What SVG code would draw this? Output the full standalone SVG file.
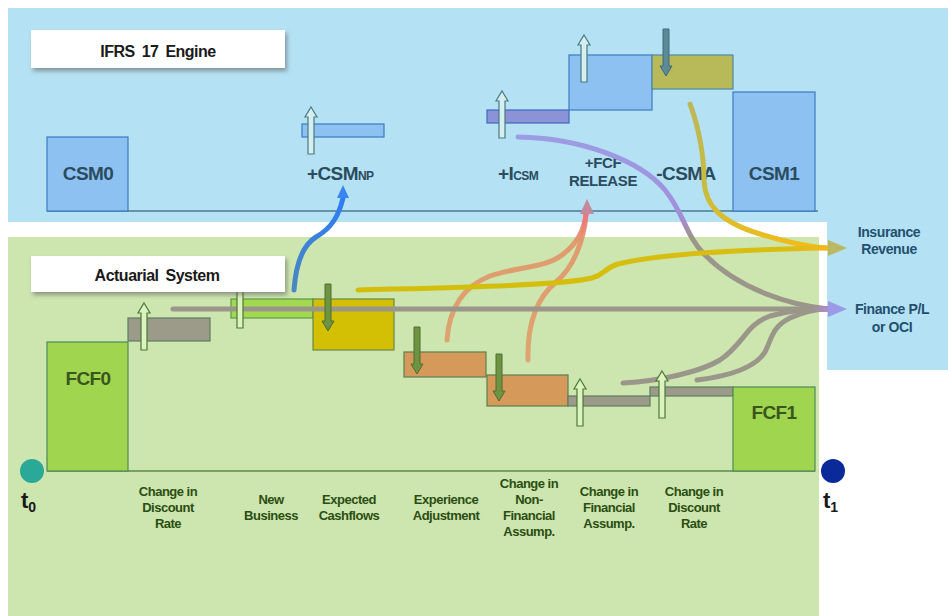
<svg xmlns="http://www.w3.org/2000/svg" xmlns:xlink="http://www.w3.org/1999/xlink" width="948" height="616" viewBox="0 0 948 616">
<style>
  .lbl { font-family: "Liberation Sans", Arial, sans-serif; font-weight: bold; }
  .big { font-size: 19px; fill: #2B4C5E; letter-spacing: -0.6px; text-anchor: middle; }
  .fcf { font-size: 19px; fill: #3B5520; letter-spacing: -0.6px; text-anchor: middle; }
  .mid { font-size: 15px; fill: #2B4C5E; letter-spacing: -0.4px; text-anchor: middle; }
  .cat { font-size: 13px; fill: #2A4E12; letter-spacing: -0.5px; text-anchor: middle; }
  .out { font-size: 14px; fill: #23506E; letter-spacing: -0.4px; text-anchor: middle; }
  .head { font-size: 16px; fill: #1A1A1A; letter-spacing: -0.5px; text-anchor: middle; word-spacing: 3px; }
  .csm { fill: #8DC1F1; stroke: #3B7BC4; stroke-width: 1.2; }
  .icsm { fill: #8C92D6; stroke: #3B6BC0; stroke-width: 1.2; }
  .csma { fill: #B8BA5A; stroke: #4D8AA0; stroke-width: 1.2; }
  .fcfbox { fill: #9FD54F; stroke: #4E8A5A; stroke-width: 1.2; }
  .nb { fill: #A2D94E; stroke: #5A9A4A; stroke-width: 1.2; }
  .gray { fill: #9C9A88; stroke: #5E7E60; stroke-width: 1.2; }
  .yel { fill: #D3BF04; stroke: #6A8A4A; stroke-width: 1.2; }
  .ora { fill: #D5995A; stroke: #5E7E50; stroke-width: 1.2; }
  .upb { fill: #D5EEF0; stroke: #4A7A80; stroke-width: 1.2; }
  .upg { fill: #DDF2BE; stroke: #4A7A3A; stroke-width: 1.2; }
  .dnb { fill: #5C8A96; stroke: #3F6A7A; stroke-width: 1; }
  .dng { fill: #6E9442; stroke: #4F6F30; stroke-width: 1; }
  .conn { fill: none; stroke-width: 5; stroke-linecap: round; }
</style>
<defs>
  <path id="up" d="M0,0 L6,10 L3,10 L3,47 L-3,47 L-3,10 L-6,10 Z"/>
  <path id="dn" d="M-3,0 L3,0 L3,37 L6,37 L0,47 L-6,37 L-3,37 Z"/>
  <filter id="sh" x="-10%" y="-20%" width="120%" height="150%">
    <feDropShadow dx="2" dy="3" stdDeviation="2" flood-color="#555" flood-opacity="0.55"/>
  </filter>
  <linearGradient id="gBlue" gradientUnits="userSpaceOnUse" x1="294" y1="290" x2="343" y2="198">
    <stop offset="0" stop-color="#4A88C0"/>
    <stop offset="1" stop-color="#2F7CF2"/>
  </linearGradient>
  <linearGradient id="gOra" gradientUnits="userSpaceOnUse" x1="0" y1="360" x2="0" y2="212">
    <stop offset="0" stop-color="#DDA06C"/>
    <stop offset="0.8" stop-color="#E29468"/>
    <stop offset="1" stop-color="#F2707E"/>
  </linearGradient>
  <linearGradient id="gPur" gradientUnits="userSpaceOnUse" x1="0" y1="137" x2="0" y2="309">
    <stop offset="0" stop-color="#9C9CE4"/>
    <stop offset="0.42" stop-color="#A090DC"/>
    <stop offset="0.5" stop-color="#A88AC8"/>
    <stop offset="0.58" stop-color="#9A968A"/>
    <stop offset="1" stop-color="#9A968A"/>
  </linearGradient>
  <linearGradient id="gCsma" gradientUnits="userSpaceOnUse" x1="0" y1="104" x2="0" y2="248">
    <stop offset="0" stop-color="#BDB758"/>
    <stop offset="0.6" stop-color="#C8BC40"/>
    <stop offset="1" stop-color="#F2BC18"/>
  </linearGradient>
  <linearGradient id="gYel" gradientUnits="userSpaceOnUse" x1="358" y1="0" x2="828" y2="0">
    <stop offset="0" stop-color="#D2BE0A"/>
    <stop offset="0.9" stop-color="#D8BE12"/>
    <stop offset="1" stop-color="#F2B81E"/>
  </linearGradient>
  <linearGradient id="gGray" gradientUnits="userSpaceOnUse" x1="173" y1="0" x2="828" y2="0">
    <stop offset="0" stop-color="#9A968A"/>
    <stop offset="0.975" stop-color="#9A968A"/>
    <stop offset="1" stop-color="#B08AD8"/>
  </linearGradient>
</defs>

<!-- backgrounds -->
<path d="M8,8 H948 V370 H827 V222 H8 Z" fill="#B4E1F3"/>
<rect x="8" y="237" width="811" height="379" fill="#CDE5AE"/>

<!-- baselines -->
<line x1="47" y1="211" x2="818" y2="211" stroke="#4A7A90" stroke-width="1.5"/>
<line x1="47" y1="471" x2="815" y2="471" stroke="#5A8A4A" stroke-width="1.5"/>

<!-- IFRS 17 engine nodes -->
<g id="csm0"><rect class="csm" x="47" y="137" width="81" height="74"/><text class="lbl big" x="88" y="180">CSM0</text></g>
<g id="csmnp"><rect class="csm" x="302" y="124" width="82" height="13"/><use href="#up" class="upb" x="311" y="107"/><text class="lbl big" x="307" y="180" style="text-anchor:start">+CSM<tspan font-size="12" letter-spacing="-0.6">NP</tspan></text></g>
<g id="icsm"><rect class="icsm" x="487" y="110" width="82" height="13"/><use href="#up" class="upb" x="502" y="91"/><text class="lbl big" x="498" y="180" style="text-anchor:start">+I<tspan font-size="12" letter-spacing="-0.6">CSM</tspan></text></g>
<g id="fcfrelease"><rect class="csm" x="569" y="55" width="83" height="55"/><use href="#up" class="upb" x="584" y="35"/><text class="lbl mid" x="603" y="168">+FCF</text><text class="lbl mid" x="603" y="186">RELEASE</text></g>
<g id="csma"><rect class="csma" x="652" y="55" width="81" height="34"/><use href="#dn" class="dnb" x="666" y="29"/><text class="lbl big" x="686" y="180">-CSMA</text></g>
<g id="csm1"><rect class="csm" x="733" y="92" width="82" height="119"/><text class="lbl big" x="774" y="180">CSM1</text></g>

<!-- Actuarial system nodes -->
<g id="fcf0"><rect class="fcfbox" x="47" y="342" width="81" height="129"/><text class="lbl fcf" x="88" y="385">FCF0</text></g>
<g id="discount0"><rect class="gray" x="128" y="318" width="82" height="23"/></g>
<g id="newbusiness"><rect class="nb" x="231" y="299" width="82" height="19"/></g>
<g id="expected"><rect class="yel" x="313" y="299" width="81" height="51"/></g>
<g id="experience"><rect class="ora" x="404" y="352" width="82" height="25"/></g>
<g id="nonfin"><rect class="ora" x="487" y="375" width="81" height="31"/></g>
<g id="fin"><rect class="gray" x="568" y="396" width="82" height="10"/></g>
<g id="discount1"><rect class="gray" x="650" y="387" width="83" height="9"/></g>
<g id="fcf1"><rect class="fcfbox" x="733" y="387" width="82" height="84"/><text class="lbl fcf" x="774" y="419">FCF1</text></g>

<!-- connectors -->
<g id="connectors">
  <path class="conn" stroke="url(#gBlue)" stroke-width="4.5" d="M294,290 C296,262 303,245 316,237 C332,228 339,215 343,198"/>
  <path d="M343,185 L349,198 L337,198 Z" fill="#3A84F0"/>
  <path class="conn" stroke="url(#gOra)" stroke-width="4.5" opacity="0.92" d="M447,340 C449,310 462,287 490,276 C520,266 545,268 562,255 C578,243 584,230 586,214"/>
  <path class="conn" stroke="url(#gOra)" stroke-width="4.5" opacity="0.92" d="M528,360 C527,320 538,297 556,282 C574,267 584,240 586,214"/>
  <path d="M587,199 L594,214 L580,214 Z" fill="#C4899A"/>
  <path class="conn" stroke="url(#gPur)" stroke-width="4.5" d="M518,137 C580,138 640,160 665,190 C685,215 685,235 705,255 C740,290 790,305 828,309"/>
  <path class="conn" stroke="#9A968A" d="M623,383 C660,381 700,372 720,360 C745,343 745,325 770,316 C790,310 810,309 828,309"/>
  <path class="conn" stroke="#9A968A" d="M697,380 C730,376 755,368 765,352 C772,338 772,327 790,318 C805,311 815,309 828,309"/>
  <path class="conn" stroke="url(#gGray)" stroke-linecap="butt" d="M173,309 L828,309"/>
  <path d="M847,309 L828,301 L828,317 Z" fill="#9A9AE6"/>
  <path class="conn" stroke="url(#gCsma)" stroke-width="4.5" d="M690,104 C700,130 704,160 704,180 C705,205 720,222 760,234 C790,243 810,247 828,248"/>
  <path class="conn" stroke="url(#gYel)" d="M358,290 C430,288 560,286 592,278 C606,274 604,268 618,264 C650,256 720,250 828,248"/>
  <path d="M847,248 L828,240 L828,256 Z" fill="#BBB862"/>
</g>

<!-- change arrows (green area) -->
<g id="arrows">
  <use href="#up" class="upg" x="144" y="303"/>
  <use href="#up" class="upg" x="240" y="281"/>
  <use href="#dn" class="dng" x="328" y="284"/>
  <use href="#dn" class="dng" x="417" y="327"/>
  <use href="#dn" class="dng" x="499" y="354"/>
  <use href="#up" class="upg" x="580" y="379"/>
  <use href="#up" class="upg" x="662" y="371"/>
</g>

<!-- section labels -->
<g id="ifrs-label"><rect x="31" y="30" width="254" height="38" fill="#FFFFFF" filter="url(#sh)"/><text class="lbl head" x="158" y="57">IFRS 17 Engine</text></g>
<g id="actuarial-label"><rect x="31" y="256" width="254" height="36" fill="#FFFFFF" filter="url(#sh)"/><text class="lbl head" x="157" y="281">Actuarial System</text></g>

<!-- outputs -->
<g id="insurance-revenue"><text class="lbl out" x="889" y="237">Insurance</text><text class="lbl out" x="889" y="254">Revenue</text></g>
<g id="finance-pl"><text class="lbl out" x="892" y="314">Finance P/L</text><text class="lbl out" x="892" y="332">or OCI</text></g>

<!-- time points -->
<g id="t0"><circle cx="32" cy="471" r="12" fill="#2AA898"/><text class="lbl" x="21" y="508" font-size="22" fill="#1A1A1A">t<tspan font-size="14" dy="4">0</tspan></text></g>
<g id="t1"><circle cx="833" cy="471" r="12" fill="#0A2A9A"/><text class="lbl" x="823" y="508" font-size="22" fill="#1A1A1A">t<tspan font-size="14" dy="4">1</tspan></text></g>

<!-- category labels -->
<g id="categories">
  <text class="lbl cat" x="168" y="496">Change in</text><text class="lbl cat" x="168" y="512">Discount</text><text class="lbl cat" x="168" y="528">Rate</text>
  <text class="lbl cat" x="271" y="504">New</text><text class="lbl cat" x="271" y="520">Business</text>
  <text class="lbl cat" x="349" y="504">Expected</text><text class="lbl cat" x="349" y="520">Cashflows</text>
  <text class="lbl cat" x="446" y="504">Experience</text><text class="lbl cat" x="446" y="520">Adjustment</text>
  <text class="lbl cat" x="529" y="488">Change in</text><text class="lbl cat" x="529" y="504">Non-</text><text class="lbl cat" x="529" y="520">Financial</text><text class="lbl cat" x="529" y="536">Assump.</text>
  <text class="lbl cat" x="609" y="496">Change in</text><text class="lbl cat" x="609" y="512">Financial</text><text class="lbl cat" x="609" y="528">Assump.</text>
  <text class="lbl cat" x="694" y="496">Change in</text><text class="lbl cat" x="694" y="512">Discount</text><text class="lbl cat" x="694" y="528">Rate</text>
</g>
</svg>
